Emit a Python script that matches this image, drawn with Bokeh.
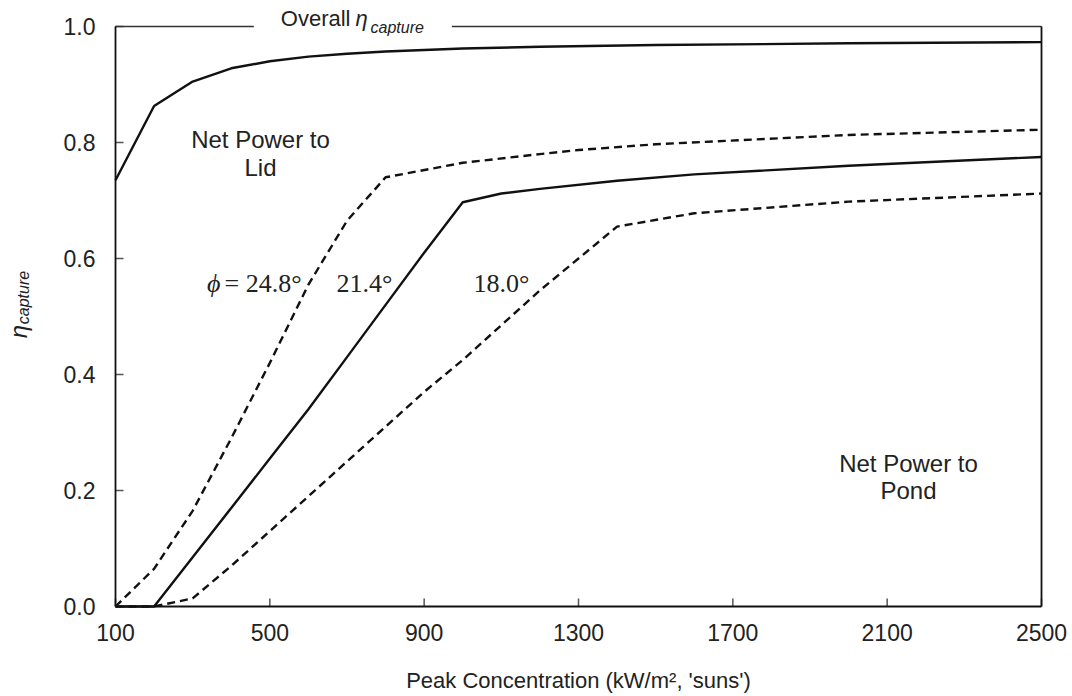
from bokeh.plotting import figure
from bokeh.models import Range1d, FixedTicker, LinearAxis, Label, PrintfTickFormatter
from bokeh.embed import file_html
from bokeh.resources import INLINE
import math

# ---- data ----
x_ticks = [100, 500, 900, 1300, 1700, 2100, 2500]
y_ticks = [0.0, 0.2, 0.4, 0.6, 0.8, 1.0]

overall_x = [100, 200, 300, 400, 500, 600, 700, 800, 1000, 1200, 1500, 2000, 2500]
overall_y = [0.735, 0.863, 0.905, 0.928, 0.940, 0.948, 0.953, 0.957, 0.962, 0.965, 0.968, 0.971, 0.973]

phi248_x = [100, 200, 300, 400, 500, 600, 700, 800, 1000, 1200, 1300, 1500, 2000, 2500]
phi248_y = [0.0, 0.065, 0.165, 0.29, 0.42, 0.555, 0.665, 0.74, 0.765, 0.78, 0.787, 0.797, 0.813, 0.822]

phi214_x = [100, 200, 300, 400, 500, 600, 700, 800, 900, 1000, 1100, 1200, 1400, 1600, 2000, 2500]
phi214_y = [0.0, 0.0, 0.085, 0.17, 0.255, 0.34, 0.43, 0.52, 0.61, 0.697, 0.712, 0.72, 0.734, 0.745, 0.760, 0.775]

phi180_x = [100, 200, 300, 400, 500, 600, 700, 800, 900, 1000, 1100, 1200, 1300, 1400, 1600, 2000, 2500]
phi180_y = [0.0, 0.0, 0.014, 0.07, 0.13, 0.19, 0.25, 0.31, 0.37, 0.425, 0.485, 0.545, 0.60, 0.655, 0.678, 0.698, 0.712]

X_MIN, X_MAX = 100, 2500
Y_MIN, Y_MAX = 0.0, 1.0

SANS = "Liberation Sans"
SERIF = "Liberation Serif"
INK = "#111111"
TXT = "#222222"

# ---- layout: plot box position inside the 1072x696 canvas ----
W, H = 1072, 696
BOX_L, BOX_R, BOX_T, BOX_B = 115, 1041, 26, 606
sx = (BOX_R - BOX_L) / (X_MAX - X_MIN)
sy = (BOX_B - BOX_T) / (Y_MAX - Y_MIN)
xr = Range1d(X_MIN - BOX_L / sx, X_MAX + (W - BOX_R) / sx)
yr = Range1d(Y_MIN - (H - BOX_B) / sy, Y_MAX + BOX_T / sy)

p = figure(width=W, height=H, output_backend="svg", toolbar_location=None,
           x_range=xr, y_range=yr, x_axis_location=None, y_axis_location=None,
           min_border=0)
p.outline_line_color = None
p.grid.visible = False
p.background_fill_color = "white"
p.border_fill_color = "white"

# curves
p.line(overall_x, overall_y, line_color=INK, line_width=2.4)
p.line(phi248_x, phi248_y, line_color=INK, line_width=2.4, line_dash="8 5")
p.line(phi214_x, phi214_y, line_color=INK, line_width=2.4)
p.line(phi180_x, phi180_y, line_color=INK, line_width=2.4, line_dash="8 5")

# inward tick marks, drawn at the tick values
p.ray(x=x_ticks, y=[Y_MIN] * len(x_ticks), length=8, length_units="screen",
      angle=math.pi / 2, line_color="#555555", line_width=1.5)
p.ray(x=[X_MIN] * len(y_ticks), y=y_ticks, length=8, length_units="screen",
      angle=0, line_color="#555555", line_width=1.5)

# axes
xa = LinearAxis(fixed_location=Y_MIN, bounds=(X_MIN, X_MAX))
xa.ticker = FixedTicker(ticks=x_ticks)
xa.axis_label = "Peak Concentration (kW/m\u00b2, 'suns')"
xa.axis_label_text_font = SANS
xa.axis_label_text_font_style = "normal"
xa.axis_label_text_font_size = "22px"
xa.axis_label_text_color = TXT
xa.axis_label_standoff = 24
xa.major_label_text_font = SANS
xa.major_label_text_font_size = "23px"
xa.major_label_text_color = TXT
xa.major_label_standoff = 17
xa.major_tick_in = 0
xa.major_tick_out = 0
xa.major_tick_line_color = None
xa.minor_tick_line_color = None
xa.axis_line_width = 2.2
xa.axis_line_color = INK
p.add_layout(xa, "below")

ya = LinearAxis(fixed_location=X_MIN, bounds=(Y_MIN, Y_MAX))
ya.ticker = FixedTicker(ticks=y_ticks)
ya.formatter = PrintfTickFormatter(format="%.1f")
ya.major_label_text_font = SANS
ya.major_label_text_font_size = "23px"
ya.major_label_text_color = TXT
ya.major_label_standoff = 20
ya.major_tick_in = 0
ya.major_tick_out = 0
ya.major_tick_line_color = None
ya.minor_tick_line_color = None
ya.axis_line_width = 1.8
ya.axis_line_color = INK
p.add_layout(ya, "left")

# frame borders on the right and top
ra = LinearAxis(fixed_location=X_MAX, bounds=(Y_MIN, Y_MAX), ticker=FixedTicker(ticks=[]),
                axis_line_color=INK, axis_line_width=1.8, major_tick_line_color=None,
                minor_tick_line_color=None, major_label_text_font_size="0px")
p.add_layout(ra, "right")
ta = LinearAxis(fixed_location=Y_MAX, bounds=(X_MIN, X_MAX), ticker=FixedTicker(ticks=[]),
                axis_line_color="#333333", axis_line_width=1.6, major_tick_line_color=None,
                minor_tick_line_color=None, major_label_text_font_size="0px")
p.add_layout(ta, "above")

def px2x(px):
    return X_MIN + (px - BOX_L) / sx

def py2y(py):
    return Y_MIN + (BOX_B - py) / sy

def lab(px, py, **kw):
    kw.setdefault("text_color", TXT)
    kw.setdefault("text_font", SANS)
    kw.setdefault("text_baseline", "middle")
    kw.setdefault("text_align", "center")
    p.add_layout(Label(x=px2x(px), y=py2y(py), level="overlay", **kw))

# top title, breaking the top border line (white boxes overlap each other)
lab(356, 18, text="Overall", text_align="right", text_font_size="22px",
    background_fill_color="white", padding=dict(left=27, right=6, top=3, bottom=4))
lab(352, 18, text="\u03b7", text_align="left", text_font_style="italic",
    text_font_size="22px", background_fill_color="white",
    padding=dict(left=3, right=4, top=3, bottom=4))
lab(367, 27, text="capture", text_align="left", text_font_style="italic",
    text_font_size="16px", background_fill_color="white",
    padding=dict(left=3, right=28, top=3, bottom=3))

# y axis label (rotated eta with subscript)
lab(18, 331, text="\u03b7", angle=math.pi / 2, text_font_style="italic", text_font_size="24px")
lab(23, 297, text="capture", angle=math.pi / 2, text_font_style="italic", text_font_size="16px")

# region annotations
for txt, cx, cy in [("Net Power to", 260, 139), ("Lid", 260, 167),
                    ("Net Power to", 908, 463), ("Pond", 908, 490)]:
    lab(cx, cy, text=txt, text_font_size="24px")

# angle labels (serif)
lab(220, 283, text="\u03d5", text_align="right", text_font=SERIF,
    text_font_style="italic", text_font_size="26px")
lab(224, 283, text="= 24.8\u00b0", text_align="left", text_font=SERIF, text_font_size="26px")
lab(364, 283, text="21.4\u00b0", text_font=SERIF, text_font_size="26px")
lab(501, 283, text="18.0\u00b0", text_font=SERIF, text_font_size="26px")

open("out.html", "w").write(file_html(p, INLINE))
